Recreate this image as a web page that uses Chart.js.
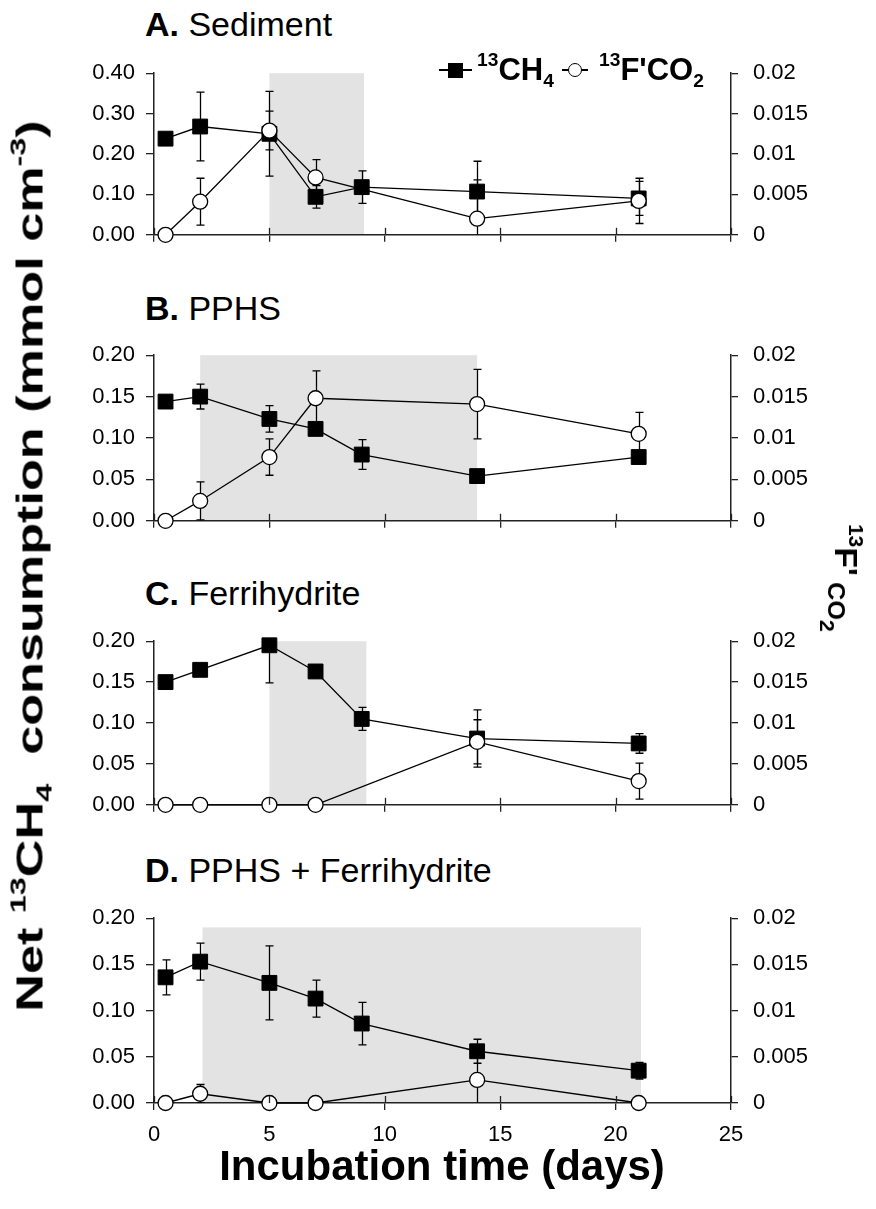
<!DOCTYPE html>
<html>
<head>
<meta charset="utf-8">
<script src="https://cdn.jsdelivr.net/npm/chart.js@4.4.0/dist/chart.umd.min.js"></script>
<style>
body { margin:0; background:#fff; width:876px; height:1209px; position:relative; overflow:hidden;
       font-family:"Liberation Sans", Arial, sans-serif; color:#000; }
canvas { position:absolute; left:0; }
.txt { position:absolute; white-space:nowrap; line-height:1; }
sup, sub { font-size:62%; line-height:0; position:relative; vertical-align:baseline; }
sup { top:-0.72em; }
sub { top:0.38em; }
.rot { position:absolute; white-space:nowrap; line-height:1; font-weight:bold; }
</style>
</head>
<body>
<canvas id="gA"></canvas>
<canvas id="gB"></canvas>
<canvas id="gC"></canvas>
<canvas id="gD"></canvas>
<script>
// Datos (días de incubación)
const dias = [0.5, 2, 5, 7, 9, 14, 21];
const ticksX = [0, 5, 10, 15, 20, 25];

// A. Sediment
const ch4A = [0.238, 0.268, 0.250, 0.094, 0.118, 0.107, 0.090];
const ch4ErrA = [0, 0.085, 0.105, 0.028, 0.040, 0.075, 0.042];
const co2A = [0, 0.0041, 0.0129, 0.0071, null, 0.0020, 0.0042];
const co2ErrA = [0, 0.0029, 0.0024, 0.0022, 0, 0.0048, 0.0028];
const sombraA = [5, 9.1];

// B. PPHS
const ch4B = [0.144, 0.150, 0.123, 0.111, 0.080, 0.054, 0.077];
const ch4ErrB = [0, 0.015, 0.016, 0, 0.018, 0, 0];
const co2B = [0, 0.0024, 0.0077, 0.0148, null, 0.0141, 0.0105];
const co2ErrB = [0, 0.0023, 0.0022, 0.0033, 0, 0.0042, 0.0026];
const sombraB = [2, 14];

// C. Ferrihydrite
const ch4C = [0.150, 0.165, 0.195, 0.163, 0.105, 0.081, 0.075];
const ch4ErrC = [0, 0, 0.046, 0, 0.014, 0.035, 0.012];
const co2C = [0, 0, 0, 0, null, 0.0077, 0.0029];
const co2ErrC = [0, 0, 0, 0, 0, 0.0027, 0.0022];
const sombraC = [5, 9.2];

// D. PPHS + Ferrihydrite
const ch4D = [0.136, 0.153, 0.130, 0.113, 0.086, 0.056, 0.035];
const ch4ErrD = [0.019, 0.020, 0.040, 0.020, 0.023, 0.013, 0.009];
const co2D = [0, 0.0010, 0, 0, null, 0.0025, 0];
const co2ErrD = [0, 0.0010, 0, 0, 0, 0.0026, 0];
const sombraD = [2.1, 21.1];
const techoSombraD = 0.19;

const ticksIzqA = [0, 0.1, 0.2, 0.3, 0.4];
const ticksIzq = [0, 0.05, 0.1, 0.15, 0.2];
const ticksDer = [0, 0.005, 0.01, 0.015, 0.02];

const FUENTE = '"Liberation Sans", Arial, sans-serif';
const EJE = '#222';

// Sombreado gris del periodo
const pluginSombra = {
  id: 'sombra',
  beforeDraw(chart, args, opts) {
    const { ctx, chartArea } = chart;
    const x = chart.scales.x, y = chart.scales.y;
    const x0 = x.getPixelForValue(opts.desde), x1 = x.getPixelForValue(opts.hasta);
    const yTop = y.getPixelForValue(opts.techo);
    ctx.save();
    ctx.fillStyle = '#e3e3e3';
    ctx.fillRect(x0, yTop, x1 - x0, chartArea.bottom - yTop);
    ctx.restore();
  }
};

// Barras de error (bajo los marcadores)
const pluginErrores = {
  id: 'errores',
  beforeDatasetsDraw(chart) {
    const { ctx, chartArea } = chart;
    ctx.save();
    ctx.beginPath();
    ctx.rect(chartArea.left - 10, chartArea.top, chartArea.right - chartArea.left + 20, chartArea.bottom - chartArea.top);
    ctx.clip();
    ctx.strokeStyle = '#000';
    ctx.lineWidth = 1.3;
    chart.data.datasets.forEach((ds, i) => {
      const meta = chart.getDatasetMeta(i);
      const escY = chart.scales[meta.yAxisID];
      const escX = chart.scales.x;
      ds.data.forEach((p, j) => {
        const e = ds.errores[j];
        if (p.y === null || !e) return;
        const px = Math.round(escX.getPixelForValue(p.x)) + 0.5;
        const yA = escY.getPixelForValue(p.y + e);
        const yB = escY.getPixelForValue(p.y - e);
        ctx.beginPath();
        ctx.moveTo(px, yA); ctx.lineTo(px, yB);
        ctx.moveTo(px - 4, yA); ctx.lineTo(px + 4, yA);
        ctx.moveTo(px - 4, yB); ctx.lineTo(px + 4, yB);
        ctx.stroke();
      });
    });
    ctx.restore();
  }
};

// Marcas del eje X que cruzan el eje (parte interior)
const pluginMarcas = {
  id: 'marcas',
  afterDatasetsDraw(chart) {
    const { ctx, chartArea } = chart;
    const x = chart.scales.x;
    ctx.save();
    ctx.strokeStyle = EJE;
    ctx.lineWidth = 1.3;
    ticksX.forEach(v => {
      const px = Math.round(x.getPixelForValue(v)) + 0.5;
      ctx.beginPath();
      ctx.moveTo(px, chartArea.bottom);
      ctx.lineTo(px, chartArea.bottom - 7);
      ctx.stroke();
    });
    ctx.restore();
  }
};

function crearPanel(id, top, bottom, ch4, ch4Err, co2, co2Err, sombra, techo, maxIzq, marcasIzq, conEtiquetasX) {
  const canvas = document.getElementById(id);
  const altoX = conEtiquetasX ? 50 : 10;
  canvas.width = 876;
  canvas.height = (bottom - top) + 14 + altoX;
  canvas.style.top = (top - 14) + 'px';

  const fuenteTicks = { family: FUENTE, size: 22 };

  new Chart(canvas.getContext('2d'), {
    type: 'line',
    data: {
      datasets: [
        {
          label: "13F'CO2",
          data: dias.map((d, i) => ({ x: d, y: co2[i] })),
          errores: co2Err,
          yAxisID: 'y2',
          order: 1,
          borderColor: '#000',
          borderWidth: 1.3,
          pointStyle: 'circle',
          pointRadius: 7.5,
          pointBackgroundColor: '#fff',
          pointBorderColor: '#000',
          pointBorderWidth: 1.3,
          spanGaps: true,
          clip: false,
          tension: 0
        },
        {
          label: '13CH4',
          data: dias.map((d, i) => ({ x: d, y: ch4[i] })),
          errores: ch4Err,
          yAxisID: 'y',
          order: 2,
          borderColor: '#000',
          borderWidth: 1.3,
          pointStyle: 'rect',
          pointRadius: 10.5,
          pointBackgroundColor: '#000',
          pointBorderColor: '#000',
          pointBorderWidth: 1,
          spanGaps: true,
          clip: false,
          tension: 0
        }
      ]
    },
    options: {
      responsive: false,
      animation: false,
      devicePixelRatio: 1,
      layout: { padding: { top: 14, left: 0, right: 0, bottom: 0 } },
      plugins: {
        legend: { display: false },
        tooltip: { enabled: false },
        sombra: { desde: sombra[0], hasta: sombra[1], techo: techo }
      },
      scales: {
        x: {
          type: 'linear',
          min: 0, max: 25,
          afterBuildTicks: s => { s.ticks = ticksX.map(v => ({ value: v })); },
          afterFit: s => { s.height = altoX; },
          border: { display: true, color: EJE, width: 1.5 },
          grid: { drawOnChartArea: false, drawTicks: true, tickLength: 7, color: EJE, lineWidth: 1.3 },
          ticks: { display: conEtiquetasX, color: '#000', font: fuenteTicks, padding: 12, maxRotation: 0 }
        },
        y: {
          position: 'left',
          min: 0, max: maxIzq,
          afterBuildTicks: s => { s.ticks = marcasIzq.map(v => ({ value: v })); },
          afterFit: s => { s.width = 154; },
          border: { display: true, color: EJE, width: 1.5 },
          grid: { drawOnChartArea: false, tickLength: 8, color: EJE, lineWidth: 1.3 },
          ticks: { color: '#000', font: fuenteTicks, padding: 11, callback: v => v.toFixed(2) }
        },
        y2: {
          position: 'right',
          min: 0, max: 0.02,
          afterBuildTicks: s => { s.ticks = ticksDer.map(v => ({ value: v })); },
          afterFit: s => { s.width = 145; },
          border: { display: true, color: EJE, width: 1.5 },
          grid: { drawOnChartArea: false, tickLength: 7, color: EJE, lineWidth: 1.3 },
          ticks: { color: '#000', font: fuenteTicks, padding: 15, callback: v => String(+v.toFixed(4)) }
        }
      }
    },
    plugins: [pluginSombra, pluginErrores, pluginMarcas]
  });
}

crearPanel('gA', 59, 253, ch4A, ch4ErrA, co2A, co2ErrA, sombraA, 0.4, 0.4, ticksIzqA, false);
crearPanel('gB', 341, 539, ch4B, ch4ErrB, co2B, co2ErrB, sombraB, 0.2, 0.2, ticksIzq, false);
crearPanel('gC', 627, 823, ch4C, ch4ErrC, co2C, co2ErrC, sombraC, 0.2, 0.2, ticksIzq, false);
crearPanel('gD', 904, 1103, ch4D, ch4ErrD, co2D, co2ErrD, sombraD, techoSombraD, 0.2, ticksIzq, true);

// Textos en HTML
function texto(html, left, baseline, size, extra) {
  const d = document.createElement('div');
  d.className = 'txt';
  d.innerHTML = html;
  d.style.left = left + 'px';
  d.style.top = (baseline - 0.8465 * size) + 'px';
  d.style.fontSize = size + 'px';
  if (extra) Object.assign(d.style, extra);
  document.body.appendChild(d);
  return d;
}

texto('<b>A.</b> Sediment', 145, 36, 34);
texto('<b>B.</b> PPHS', 145, 320, 34);
texto('<b>C.</b> Ferrihydrite', 145, 605, 34);
texto('<b>D.</b> PPHS + Ferrihydrite', 145, 882, 34);

// Leyenda del panel A
function caja(left, top, w, h, estilo) {
  const d = document.createElement('div');
  d.style.position = 'absolute';
  d.style.left = left + 'px';
  d.style.top = top + 'px';
  d.style.width = w + 'px';
  d.style.height = h + 'px';
  d.style.boxSizing = 'border-box';
  Object.assign(d.style, estilo || {});
  document.body.appendChild(d);
}
caja(439, 69, 33, 1.5, { background: '#000' });
caja(448, 63, 15, 15, { background: '#000' });
texto('<sup>13</sup>CH<sub>4</sub>', 477, 80, 31, { fontWeight: 'bold' });
caja(562, 69, 26, 1.5, { background: '#000' });
caja(568, 63, 14, 14, { background: '#fff', border: '1.3px solid #000', borderRadius: '50%' });
texto("<sup>13</sup>F'CO<sub>2</sub>", 599, 80, 31, { fontWeight: 'bold' });

// Títulos de ejes
function rotado(html, cx, cy, size, grados, estira) {
  const d = document.createElement('div');
  d.className = 'rot';
  d.innerHTML = html;
  d.style.fontSize = size + 'px';
  d.style.left = cx + 'px';
  d.style.top = cy + 'px';
  d.style.transform = 'translate(-50%,-50%) rotate(' + grados + 'deg) scaleX(' + (estira || 1) + ')';
  document.body.appendChild(d);
}
rotado('Net <sup>13</sup>CH<sub>4</sub>&nbsp; consumption (mmol cm<sup>-3</sup>)', 30, 566, 37, -90, 1.41);
rotado("<sup>13</sup>F'<sub style=\"font-size:75%;top:0.3em;margin-left:6px\">CO<sub style=\"font-size:85%\">2</sub></sub>", 846, 578, 32, 90, 1.05);
texto('Incubation time (days)', 442, 1181, 42, { fontWeight: 'bold', transform: 'translateX(-50%)' });
</script>
</body>
</html>
